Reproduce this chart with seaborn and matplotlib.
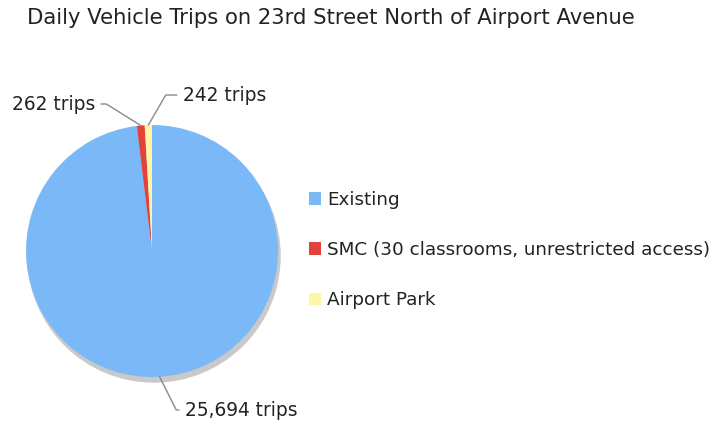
import numpy as np
import matplotlib
matplotlib.use("Agg")
import matplotlib.pyplot as plt
from matplotlib.patches import Circle
import seaborn as sns

sns.set_style("white")
plt.rcParams['font.family'] = ['DejaVu Sans']

categories = ["Existing", "SMC (30 classrooms, unrestricted access)", "Airport Park"]
trips = [25694, 262, 242]
colors = ["#7ab8f7", "#e2423b", "#fff5a5"]
title = "Daily Vehicle Trips on 23rd Street North of Airport Avenue"

W, H = 712, 425
fig = plt.figure(figsize=(W / 100, H / 100), dpi=100)
ax = fig.add_axes([0, 0, 1, 1])

cx, cy, r = 152, H - 251, 126

# soft shadow under the pie
ax.add_patch(Circle((cx + 2, cy - 5), r, color="#c9c9c9", zorder=1))

wedges, _ = ax.pie(trips, colors=colors, startangle=90, counterclock=False,
                   center=(cx, cy), radius=r, frame=True,
                   wedgeprops=dict(linewidth=0))
for w in wedges:
    w.set_zorder(2)
ax.set_xlim(0, W)
ax.set_ylim(0, H)
ax.set_aspect("equal")
ax.axis("off")

# label positions (text anchor) and the elbow angle of the leader line
label_pos = [(185, H - 410, "left", 116.6), (95, H - 104, "right", -32), (183, H - 95, "left", 60)]
for w, n, (tx, ty, ha, angB) in zip(wedges, trips, label_pos):
    mid = np.deg2rad((w.theta1 + w.theta2) / 2)
    px, py = cx + r * np.cos(mid), cy + r * np.sin(mid)
    ax.annotate("{:,} trips".format(n), xy=(px, py), xytext=(tx, ty),
                ha=ha, va="center", fontsize=13.4, color="#222222",
                arrowprops=dict(arrowstyle="-", color="#8a8a8a", lw=1,
                                shrinkA=2, shrinkB=0,
                                connectionstyle="angle,angleA=0,angleB={},rad=0".format(angB)),
                zorder=3)

ax.legend(wedges, categories, loc="center left", bbox_to_anchor=(309, H - 250),
          bbox_transform=ax.transData, frameon=False, fontsize=13.2,
          handlelength=0.65, handleheight=0.65, handletextpad=0.35,
          labelspacing=1.75, borderpad=0, borderaxespad=0, labelcolor="#222222")

fig.text(27 / W, 1 - 18 / H, title, ha="left", va="center", fontsize=15.2, color="#222222")

fig.savefig("out.png", dpi=100, facecolor="white")
